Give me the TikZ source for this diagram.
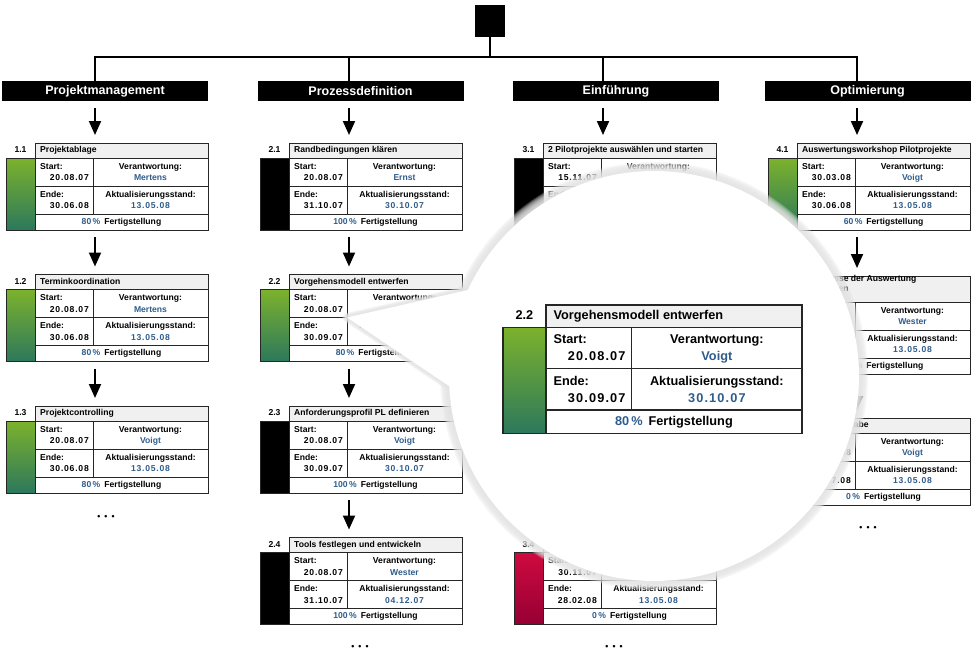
\documentclass[tikz,border=0pt]{standalone}
\usepackage{fontspec}
\setmainfont{Liberation Sans}
\newfontfamily\numfont[LetterSpace=9]{Liberation Sans}
\usetikzlibrary{arrows.meta}

\definecolor{valblue}{RGB}{46,92,140}
\definecolor{greentop}{RGB}{124,178,44}
\definecolor{greenbot}{RGB}{44,120,92}
\definecolor{redtop}{RGB}{206,10,64}
\definecolor{redbot}{RGB}{150,0,52}
\definecolor{titlegray}{RGB}{240,240,240}

\newcommand{\cardfont}{\fontsize{8.6}{9.6}\selectfont\bfseries}
\newcommand{\ifgiven}[2]{\if\relax\detokenize{#1}\relax\else#2\fi}

\tikzset{
	rootbox/.style={fill=black, minimum width=30pt, minimum height=32pt, inner sep=0pt},
	phase/.style={fill=black, text=white, minimum width=206pt, minimum height=20pt, inner sep=0pt, font=\fontsize{12.5}{14}\selectfont\bfseries},
	cell/.style={draw=black!85, line width=0.8pt},
	lab/.style={inner sep=0pt, text height=6.2pt, text depth=1.7pt, font=\cardfont},
	num/.style={lab, font=\cardfont\numfont},
	flow/.style={-{Triangle[width=12pt,length=14pt]}, line width=2pt, shorten <=7pt, shorten >=8pt},
	tree/.style={line width=2pt},
	greenbar/.style={top color=greentop, bottom color=greenbot},
	redbar/.style={top color=redtop, bottom color=redbot},
	blackbar/.style={fill=black},
	more/.style={inner sep=0pt, font=\cardfont},
	halo/.style={draw=black!11, opacity=0.26, line join=round},
}

\def\titleh{15}
\newcommand{\taskcard}[7]{%
	\def\cardx{#2}\def\cardy{#3}\def\cardsc{#4}%
	\begin{scope}[shift={(#2,#3)}, scale=#4, transform shape]
		\fill[#7] (0,\titleh) rectangle (29,{\titleh+72});
		\draw[cell] (0,\titleh) rectangle (29,{\titleh+72});
		\draw[cell, fill=titlegray] (29,0) rectangle (202,\titleh);
		\draw[cell] (29,\titleh) rectangle (202,{\titleh+72});
		\draw[cell] (29,{\titleh+28}) -- (202,{\titleh+28});
		\draw[cell] (29,{\titleh+56}) -- (202,{\titleh+56});
		\draw[cell] (87,\titleh) -- (87,{\titleh+56});
		\node[lab] (#1-no) at (14.5,{\titleh/2}) {#5};
		\node[lab, anchor=west, align=left] (#1-title) at (34,{\titleh/2}) {#6};
		\coordinate (#1-in) at (89,0);
		\coordinate (#1-out) at (89,{\titleh+72});
		\coordinate (#1-tip) at (87,{\titleh+28});
	\end{scope}}
\newcommand{\taskvalues}[6]{%
	\begin{scope}[shift={(\cardx,\cardy)}, scale=\cardsc, transform shape]
		\node[lab, anchor=west] (#1-sl) at (34,{\titleh+9}) {Start:};
		\node[lab] (#1-ol) at (144.5,{\titleh+9}) {Verantwortung:};
		\node[lab, anchor=west] (#1-el) at (34,{\titleh+37}) {Ende:};
		\node[lab] (#1-al) at (144.5,{\titleh+37}) {Aktualisierungsstand:};
		\ifgiven{#2}{\node[num, anchor=east] (#1-sv) at (83,{\titleh+20.5}) {#2};}
		\ifgiven{#3}{\node[lab, text=valblue] (#1-ov) at (144.5,{\titleh+20.5}) {#3};}
		\ifgiven{#4}{\node[num, anchor=east] (#1-ev) at (83,{\titleh+48.5}) {#4};}
		\ifgiven{#5}{\node[num, text=valblue] (#1-av) at (144.5,{\titleh+48.5}) {#5};}
		\ifgiven{#6}{\node[lab] (#1-fv) at (115.5,{\titleh+64}) {\textcolor{valblue}{#6\,\%}\hspace{4pt}Fertigstellung};}
	\end{scope}}

\begin{document}
\begin{tikzpicture}[x=1pt, y=-1pt]
	\useasboundingbox (0,0) rectangle (977,651);

	\node[rootbox] (root) at (490,21) {};
	\coordinate (bus) at (490,57);
	\node[phase] (h1) at (105,91) {Projektmanagement};
	\node[phase] (h2) at (360.5,91) {Prozessdefinition};
	\node[phase] (h3) at (616,91) {Einführung};
	\node[phase] (h4) at (867.5,91) {Optimierung};

	\taskcard{c11}{6}{143}{1}{1.1}{Projektablage}{greenbar}
	\taskvalues{c11}{20.08.07}{Mertens}{30.06.08}{13.05.08}{80}
	\taskcard{c12}{6}{274.5}{1}{1.2}{Terminkoordination}{greenbar}
	\taskvalues{c12}{20.08.07}{Mertens}{30.06.08}{13.05.08}{80}
	\taskcard{c13}{6}{406}{1}{1.3}{Projektcontrolling}{greenbar}
	\taskvalues{c13}{20.08.07}{Voigt}{30.06.08}{13.05.08}{80}

	\taskcard{c21}{260}{143}{1}{2.1}{Randbedingungen klären}{blackbar}
	\taskvalues{c21}{20.08.07}{Ernst}{31.10.07}{30.10.07}{100}
	\taskcard{c22}{260}{274.5}{1}{2.2}{Vorgehensmodell entwerfen}{greenbar}
	\taskvalues{c22}{20.08.07}{Voigt}{30.09.07}{30.10.07}{80}
	\taskcard{c23}{260}{406}{1}{2.3}{Anforderungsprofil PL definieren}{blackbar}
	\taskvalues{c23}{20.08.07}{Voigt}{30.09.07}{30.10.07}{100}
	\taskcard{c24}{260}{537.5}{1}{2.4}{Tools festlegen und entwickeln}{blackbar}
	\taskvalues{c24}{20.08.07}{Wester}{31.10.07}{04.12.07}{100}

	\taskcard{c31}{514}{143}{1}{3.1}{2 Pilotprojekte auswählen und starten}{blackbar}
	\taskvalues{c31}{15.11.07}{}{}{}{}
	\taskcard{c34}{514}{537.5}{1}{3.4}{}{redbar}
	\taskvalues{c34}{30.11.07}{}{28.02.08}{13.05.08}{0}

	\taskcard{c41}{768}{143}{1}{4.1}{Auswertungsworkshop Pilotprojekte}{greenbar}
	\taskvalues{c41}{30.03.08}{Voigt}{30.06.08}{13.05.08}{60}
	\def\titleh{26}
	\taskcard{c42}{768}{276}{1}{4.2}{Ergebnisse der Auswertung\\aufbereiten}{greenbar}
	\taskvalues{c42}{}{Wester}{}{13.05.08}{50}
	\def\titleh{15}
	\taskcard{c43}{768}{418}{1}{4.3}{Prozessfreigabe}{greenbar}
	\taskvalues{c43}{01.07.08}{Voigt}{31.07.08}{13.05.08}{0}

	\draw[tree] (root.south) -- (bus);
	\draw[tree] (bus) -| (h1.north -| c11-in);
	\draw[tree] (bus) -| (h2.north -| c21-in);
	\draw[tree] (bus) -| (h3.north -| c31-in);
	\draw[tree] (bus) -| (h4.north -| c41-in);

	\draw[flow] (h1.south -| c11-in) -- (c11-in);
	\draw[flow] (c11-out) -- (c12-in);
	\draw[flow] (c12-out) -- (c13-in);
	\draw[flow] (h2.south -| c21-in) -- (c21-in);
	\draw[flow] (c21-out) -- (c22-in);
	\draw[flow] (c22-out) -- (c23-in);
	\draw[flow] (c23-out) -- (c24-in);
	\draw[flow] (h3.south -| c31-in) -- (c31-in);
	\draw[flow] (h4.south -| c41-in) -- (c41-in);
	\draw[flow] (c41-out) -- (c42-in);
	\draw[flow] (c42-out) -- (c43-in);

	\node[more] (more1) at (106,517) {\textbullet\hspace{4pt}\textbullet\hspace{4pt}\textbullet};
	\node[more] (more2) at (360,647) {\textbullet\hspace{4pt}\textbullet\hspace{4pt}\textbullet};
	\node[more] (more3) at (614,647) {\textbullet\hspace{4pt}\textbullet\hspace{4pt}\textbullet};
	\node[more] (more4) at (868,528) {\textbullet\hspace{4pt}\textbullet\hspace{4pt}\textbullet};

	\coordinate (lens) at (654,376);
	\coordinate (lensa) at (468,290);
	\coordinate (lensb) at (449,386);
	\foreach \w in {2,4,...,18} {
		\draw[halo, line width=\w pt] (lens) circle[radius=205];
		\draw[halo, line width=0.5*\w pt] (c22-tip) -- (lensa) -- (lensb) -- cycle;
	}
	\fill[white] (lens) circle[radius=205];
	\fill[white] (c22-tip) -- (lensa) -- (lensb) -- cycle;

	\begin{scope}[cell/.append style={line width=1.3pt}]
		\taskcard{big}{503}{305}{1.48}{2.2}{Vorgehensmodell entwerfen}{greenbar}
		\taskvalues{big}{20.08.07}{Voigt}{30.09.07}{30.10.07}{80}
	\end{scope}
\end{tikzpicture}
\end{document}
